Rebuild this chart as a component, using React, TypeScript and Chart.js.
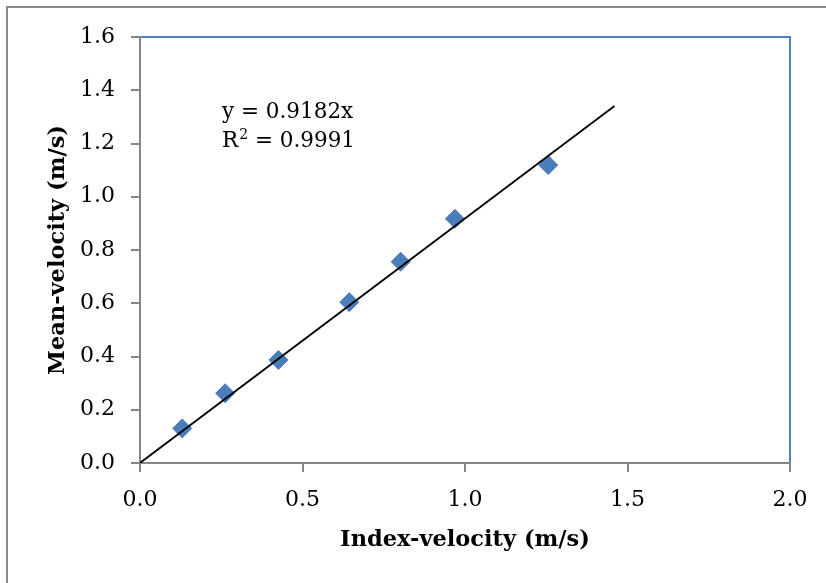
import React, { useEffect, useRef } from "react";
import { Chart, registerables } from "chart.js";

Chart.register(...registerables);

// ---- data ----
const indexVelocity = [0.13, 0.262, 0.426, 0.644, 0.802, 0.969, 1.256];
const meanVelocity = [0.13, 0.262, 0.387, 0.604, 0.756, 0.917, 1.119];
const trendSlope = 0.9182;
const trendXRange = [0, 1.46];
const equationLabel = "y = 0.9182x";
const r2Prefix = "R";
const r2Sup = "2";
const r2Value = " = 0.9991";
const xTitle = "Index-velocity (m/s)";
const yTitle = "Mean-velocity (m/s)";
const xAxisRange = [0, 2, 0.5];
const yAxisRange = [0, 1.6, 0.2];

const SERIF = "'DejaVu Serif', serif";
const AXIS_GRAY = "#868686";
const PLOT_BLUE = "#4F81BD";
const MARKER_BLUE = "#4A7EBB";

const framePlugin = {
  id: "frame",
  beforeDraw(chart: any) {
    const { ctx, chartArea: a } = chart;
    ctx.save();
    ctx.fillStyle = "#ffffff";
    ctx.fillRect(0, 0, chart.width, chart.height);
    ctx.strokeStyle = "#8a8a8a";
    ctx.lineWidth = 2;
    ctx.beginPath();
    ctx.moveTo(7, chart.height + 2);
    ctx.lineTo(7, 7);
    ctx.lineTo(chart.width + 2, 7);
    ctx.stroke();
    ctx.strokeStyle = PLOT_BLUE;
    ctx.lineWidth = 2;
    ctx.beginPath();
    ctx.moveTo(a.left, a.top);
    ctx.lineTo(a.right, a.top);
    ctx.lineTo(a.right, a.bottom);
    ctx.stroke();
    ctx.restore();
  },
  afterDatasetsDraw(chart: any) {
    const { ctx, chartArea: a } = chart;
    ctx.save();
    ctx.fillStyle = "#000";
    ctx.textAlign = "left";
    ctx.textBaseline = "alphabetic";
    const x0 = a.left + 82;
    ctx.font = `21.5px ${SERIF}`;
    ctx.fillText(equationLabel, x0, a.top + 81);
    const y2 = a.top + 109.5;
    ctx.fillText(r2Prefix, x0, y2);
    let x = x0 + ctx.measureText(r2Prefix).width + 1;
    ctx.font = `14px ${SERIF}`;
    ctx.fillText(r2Sup, x, y2 - 8);
    x += ctx.measureText(r2Sup).width;
    ctx.font = `21.5px ${SERIF}`;
    ctx.fillText(r2Value, x, y2);
    ctx.restore();
  },
};

export default function App() {
  const ref = useRef<HTMLCanvasElement>(null);

  useEffect(() => {
    if (!ref.current) return;
    const trendData = trendXRange.map((x) => ({ x, y: trendSlope * x }));
    const pts = indexVelocity.map((x, i) => ({ x, y: meanVelocity[i] }));
    const tickFont = { family: SERIF, size: 22 };
    const titleFont = { family: SERIF, size: 22.5, weight: "bold" as const };

    const chart = new Chart(ref.current, {
      type: "scatter",
      data: {
        datasets: [
          {
            type: "line",
            label: "Trend",
            data: trendData,
            borderColor: "#000",
            borderWidth: 1.8,
            pointRadius: 0,
            fill: false,
          } as any,
          {
            label: "Mean-velocity",
            data: pts,
            pointStyle: "rectRot",
            pointRadius: 9.5,
            backgroundColor: MARKER_BLUE,
            borderColor: MARKER_BLUE,
            borderWidth: 1,
          },
        ],
      },
      options: {
        responsive: false,
        animation: false,
        devicePixelRatio: 1,
        layout: { padding: { top: 37, right: 36, left: 0, bottom: 0 } },
        plugins: {
          legend: { display: false },
          tooltip: { enabled: false },
        },
        scales: {
          x: {
            type: "linear",
            min: xAxisRange[0],
            max: xAxisRange[1],
            afterFit: (s: any) => {
              s.height = 120;
            },
            ticks: {
              stepSize: xAxisRange[2],
              callback: (v: any) => Number(v).toFixed(1),
              font: tickFont,
              color: "#000",
              padding: 15,
            },
            grid: {
              drawOnChartArea: false,
              drawTicks: true,
              tickLength: 9,
              color: AXIS_GRAY,
              lineWidth: 2,
            },
            border: { color: AXIS_GRAY, width: 2 },
            title: {
              display: true,
              text: xTitle,
              font: titleFont,
              color: "#000",
              padding: { top: 0, bottom: 29 },
            },
          },
          y: {
            type: "linear",
            min: yAxisRange[0],
            max: yAxisRange[1],
            afterFit: (s: any) => {
              s.width = 140;
            },
            ticks: {
              stepSize: yAxisRange[2],
              callback: (v: any) => Number(v).toFixed(1),
              font: tickFont,
              color: "#000",
              padding: 16,
            },
            grid: {
              drawOnChartArea: false,
              drawTicks: true,
              tickLength: 9,
              color: AXIS_GRAY,
              lineWidth: 2,
            },
            border: { color: AXIS_GRAY, width: 2 },
            title: {
              display: true,
              text: yTitle,
              font: titleFont,
              color: "#000",
              padding: { top: 45, bottom: 0 },
            },
          },
        },
      },
      plugins: [framePlugin],
    });
    return () => chart.destroy();
  }, []);

  return (
    <div style={{ position: "absolute", left: 0, top: 0, width: 826, height: 583 }}>
      <canvas ref={ref} width={826} height={583} />
    </div>
  );
}
